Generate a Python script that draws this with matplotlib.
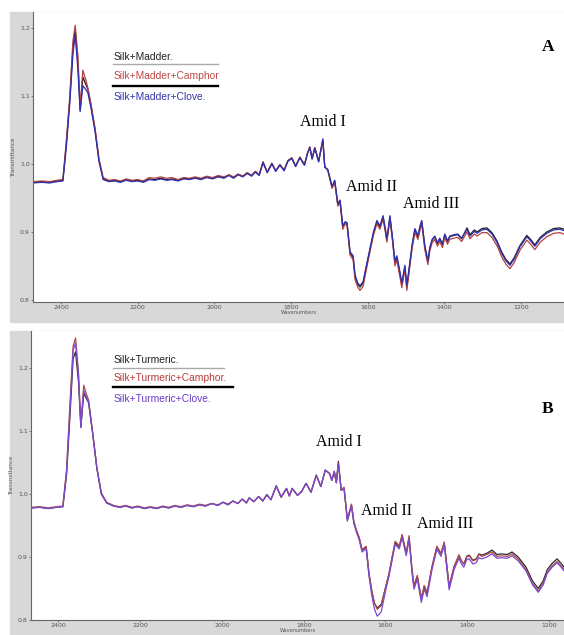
import matplotlib
matplotlib.use("Agg")
import matplotlib.pyplot as plt
from matplotlib.patches import Rectangle

# ---- panel A : silk + madder ----
A_wn = [2473, 2450, 2430, 2410, 2395, 2386, 2377, 2369, 2363, 2356,
        2350, 2343, 2336, 2330, 2322, 2311, 2301, 2290, 2275, 2260,
        2245, 2230, 2215, 2200, 2185, 2170, 2155, 2140, 2125, 2110,
        2095, 2080, 2065, 2050, 2035, 2020, 2005, 1990, 1975, 1962,
        1950, 1938, 1926, 1914, 1903, 1893, 1883, 1873, 1862, 1850,
        1840, 1829, 1818, 1808, 1798, 1788, 1777, 1765, 1757, 1751,
        1745, 1738, 1728, 1717, 1712, 1704, 1693, 1686, 1678, 1672,
        1665, 1659, 1654, 1646, 1638, 1633, 1626, 1620, 1612, 1603,
        1594, 1585, 1576, 1568, 1560, 1554, 1550, 1542, 1535, 1529,
        1524, 1517, 1511, 1503, 1498, 1490, 1484, 1477, 1469, 1463,
        1459, 1451, 1443, 1438, 1432, 1425, 1418, 1412, 1405, 1399,
        1392, 1386, 1375, 1365, 1355, 1341, 1333, 1322, 1315, 1302,
        1289, 1276, 1263, 1250, 1240, 1229, 1218, 1203, 1185, 1175,
        1164, 1150, 1133, 1115, 1099, 1088]
A_madder = [.973, .974, .973, .975, .976, 1.030, 1.095, 1.170, 1.198, 1.150,
            1.079, 1.128, 1.118, 1.110, 1.087, 1.050, 1.006, .978, .975, .976,
            .974, .977, .975, .976, .974, .978, .977, .979, .977, .978,
            .976, .979, .978, .980, .978, .981, .979, .982, .980, .984,
            .980, .985, .982, .987, .983, .989, .984, 1.003, .988, 1.001,
            .990, .999, .991, 1.005, 1.009, .997, 1.010, .999, 1.016, 1.025,
            1.008, 1.024, 1.004, 1.035, .996, .991, .966, .975, .940, .945,
            .907, .914, .913, .869, .863, .834, .823, .819, .825, .850,
            .874, .898, .915, .907, .922, .903, .888, .922, .888, .854,
            .863, .842, .822, .849, .818, .854, .880, .903, .893, .908,
            .915, .878, .856, .876, .888, .893, .883, .890, .881, .896,
            .886, .893, .895, .896, .890, .906, .896, .903, .900, .905,
            .906, .899, .887, .870, .860, .853, .862, .880, .895, .889,
            .881, .892, .900, .905, .906, .904]
A_camphor = [.974, .975, .974, .976, .977, 1.035, 1.100, 1.180, 1.204, 1.160,
             1.084, 1.138, 1.125, 1.112, 1.089, 1.052, 1.008, .980, .976, .977,
             .975, .978, .976, .977, .975, .980, .979, .981, .979, .980,
             .977, .980, .979, .981, .979, .982, .980, .983, .981, .984,
             .981, .985, .982, .987, .983, .989, .984, 1.003, .988, 1.001,
             .990, .999, .991, 1.005, 1.009, .997, 1.010, .999, 1.016, 1.025,
             1.008, 1.024, 1.004, 1.034, .996, .990, .964, .973, .938, .943,
             .904, .912, .910, .866, .859, .830, .819, .814, .820, .846,
             .871, .895, .912, .904, .919, .900, .885, .919, .885, .850,
             .859, .837, .818, .845, .814, .850, .876, .899, .889, .904,
             .911, .874, .852, .872, .884, .889, .879, .886, .877, .892,
             .882, .889, .891, .892, .886, .900, .890, .897, .894, .899,
             .899, .892, .880, .863, .853, .846, .855, .873, .888, .882,
             .874, .885, .893, .898, .899, .897]
A_clove = [.972, .973, .972, .974, .975, 1.025, 1.090, 1.160, 1.190, 1.140,
           1.077, 1.115, 1.110, 1.105, 1.083, 1.047, 1.004, .977, .974, .975,
           .973, .976, .974, .975, .973, .977, .976, .978, .976, .977,
           .975, .978, .977, .979, .977, .980, .978, .981, .979, .983,
           .979, .984, .981, .986, .982, .988, .983, 1.002, .987, 1.000,
           .989, .998, .990, 1.004, 1.008, .996, 1.009, .998, 1.015, 1.024,
           1.007, 1.023, 1.003, 1.037, .995, .992, .967, .976, .942, .947,
           .909, .915, .914, .871, .865, .837, .825, .821, .827, .852,
           .876, .900, .917, .909, .924, .905, .890, .924, .890, .857,
           .865, .845, .825, .851, .821, .856, .882, .905, .895, .910,
           .917, .880, .858, .877, .889, .894, .884, .891, .882, .897,
           .887, .894, .896, .897, .891, .904, .894, .901, .898, .903,
           .904, .897, .885, .868, .858, .851, .860, .878, .893, .887,
           .879, .890, .898, .903, .904, .902]

# ---- panel B : silk + turmeric ----
B_wn = [2467, 2445, 2425, 2405, 2389, 2380, 2372, 2364, 2358, 2351,
        2345, 2338, 2332, 2326, 2316, 2306, 2295, 2282, 2265, 2250,
        2235, 2220, 2205, 2190, 2175, 2160, 2145, 2130, 2115, 2100,
        2085, 2070, 2055, 2040, 2025, 2010, 1997, 1985, 1973, 1961,
        1950, 1940, 1933, 1922, 1910, 1900, 1890, 1880, 1867, 1855,
        1842, 1835, 1828, 1815, 1805, 1794, 1782, 1769, 1758, 1747,
        1737, 1731, 1725, 1720, 1715, 1708, 1701, 1693, 1683, 1677,
        1671, 1664, 1657, 1647, 1640, 1633, 1627, 1620, 1610, 1600,
        1591, 1583, 1576, 1566, 1559, 1549, 1542, 1535, 1530, 1522,
        1512, 1505, 1498, 1486, 1474, 1464, 1456, 1444, 1432, 1420,
        1414, 1408, 1401, 1395, 1386, 1378, 1371, 1364, 1352, 1339,
        1327, 1315, 1302, 1290, 1275, 1256, 1240, 1226, 1214, 1204,
        1192, 1180, 1170, 1163]
B_turmeric = [.978, .979, .977, .979, .980, 1.030, 1.120, 1.215, 1.226, 1.180,
              1.106, 1.160, 1.152, 1.145, 1.095, 1.041, 1.000, .986, .981, .979,
              .981, .978, .980, .977, .979, .977, .980, .978, .981, .979,
              .982, .980, .983, .981, .985, .982, .987, .983, .989, .985,
              .992, .986, .994, .988, .996, .989, .999, .991, 1.013, .995,
              1.009, .997, 1.009, .998, 1.004, 1.017, 1.003, 1.030, 1.012, 1.038,
              1.033, 1.022, 1.036, 1.018, 1.052, 1.006, 1.009, .959, .983, .955,
              .942, .930, .911, .916, .873, .845, .827, .819, .825, .850,
              .873, .900, .923, .916, .934, .905, .931, .880, .853, .869,
              .833, .853, .842, .884, .916, .905, .923, .853, .884, .903,
              .894, .889, .901, .903, .895, .897, .905, .903, .906, .911,
              .904, .905, .904, .908, .900, .884, .862, .850, .862, .880,
              .890, .897, .890, .884]
B_camphor = [.979, .980, .978, .980, .981, 1.040, 1.140, 1.235, 1.248, 1.195,
             1.111, 1.173, 1.160, 1.149, 1.098, 1.043, 1.002, .987, .982, .980,
             .982, .979, .981, .978, .980, .978, .981, .979, .982, .980,
             .983, .981, .984, .982, .985, .983, .987, .984, .989, .985,
             .992, .986, .994, .988, .996, .989, .999, .991, 1.013, .995,
             1.009, .997, 1.009, .998, 1.004, 1.017, 1.003, 1.030, 1.012, 1.038,
             1.033, 1.022, 1.036, 1.018, 1.050, 1.006, 1.011, .960, .984, .956,
             .943, .931, .912, .917, .874, .846, .827, .817, .823, .851,
             .875, .902, .925, .918, .936, .907, .934, .882, .855, .871,
             .835, .855, .844, .885, .917, .906, .924, .854, .885, .903,
             .894, .889, .900, .902, .894, .896, .904, .901, .904, .908,
             .901, .902, .901, .905, .897, .880, .858, .846, .858, .876,
             .886, .893, .886, .880]
B_clove = [.978, .979, .977, .979, .980, 1.035, 1.130, 1.228, 1.240, 1.190,
           1.106, 1.165, 1.154, 1.146, 1.096, 1.042, 1.001, .986, .981, .979,
           .981, .978, .980, .977, .979, .977, .980, .978, .981, .979,
           .982, .980, .983, .981, .985, .982, .987, .983, .989, .985,
           .992, .986, .994, .988, .996, .989, .999, .991, 1.013, .995,
           1.009, .997, 1.009, .998, 1.004, 1.017, 1.003, 1.030, 1.012, 1.038,
           1.033, 1.022, 1.036, 1.018, 1.048, 1.006, 1.008, .957, .981, .953,
           .940, .927, .908, .913, .869, .838, .818, .806, .813, .845,
           .870, .897, .920, .913, .931, .902, .928, .876, .849, .865,
           .828, .849, .837, .880, .912, .901, .919, .848, .880, .898,
           .889, .884, .896, .897, .889, .891, .899, .897, .900, .905,
           .898, .899, .898, .902, .894, .878, .856, .844, .856, .874,
           .884, .891, .884, .878]

x_ticks = [2400, 2200, 2000, 1800, 1600, 1400, 1200]
y_ticks = [0.8, 0.9, 1.0, 1.1, 1.2]
A_labels = ["Silk+Madder.", "Silk+Madder+Camphor", "Silk+Madder+Clove."]
B_labels = ["Silk+Turmeric.", "Silk+Turmeric+Camphor.", "Silk+Turmeric+Clove."]
amid_names = ["Amid I", "Amid II", "Amid III"]

W, H = 564, 635
GRAY = "#d8d8d8"
fig = plt.figure(figsize=(W / 100, H / 100), dpi=100)

# grey frames behind each spectrum window
fig.patches.append(Rectangle((10 / W, 1 - 322 / H), 554 / W, 310 / H,
                             transform=fig.transFigure, color=GRAY, zorder=-1))
fig.patches.append(Rectangle((10 / W, 0), 554 / W, 304 / H,
                             transform=fig.transFigure, color=GRAY, zorder=-1))


def px_axes(l, t, r, b):
    return fig.add_axes([l / W, 1 - b / H, (r - l) / W, (b - t) / H])


def panel(ax, wn, series, colors, labels, text_colors, xlim, ylim,
          letter, letter_y, leg, amid_pos):
    for ys, c in zip(series, colors):
        ax.plot(wn, ys, color=c, lw=0.9)
    ax.set_xlim(*xlim)
    ax.set_ylim(*ylim)
    ax.set_xticks(x_ticks)
    ax.set_yticks(y_ticks)
    ax.set_yticklabels(["%.1f" % v for v in y_ticks])
    ax.tick_params(labelsize=4.5, length=1.5, width=0.5, colors="#555555", pad=0.8)
    for s in ["top", "right"]:
        ax.spines[s].set_visible(False)
    for s in ["left", "bottom"]:
        ax.spines[s].set_color("#666666")
        ax.spines[s].set_linewidth(0.8)
    ax.set_xlabel("Wavenumbers", fontsize=3.6, labelpad=0, color="#555555")
    ax.set_ylabel("Transmittance", fontsize=4, labelpad=3, color="#555555")

    # spectrum titles with their line keys
    x0, x1, x2, ys = leg
    for lab, tc, yy in zip(labels, text_colors, ys[0::2]):
        ax.text(x0, yy, lab, transform=ax.transAxes, fontsize=7.4, color=tc,
                family="Liberation Sans", va="center", ha="left")
    ax.plot([x0, x1], [ys[1], ys[1]], transform=ax.transAxes, color="#aaaaaa", lw=1.0)
    ax.plot([x0, x2], [ys[3], ys[3]], transform=ax.transAxes, color="black", lw=1.7)

    ax.text(0.97, letter_y, letter, transform=ax.transAxes, fontsize=12.5,
            fontweight="bold", family="Liberation Serif", ha="center", va="center")
    for name, (wx, ty) in zip(amid_names, amid_pos):
        ax.text(wx, ty, name, fontsize=11.5, family="Liberation Serif",
                ha="center", va="center")


axA = px_axes(33, 12, 564, 302)
panel(axA, A_wn, [A_madder, A_camphor, A_clove],
      ["#1e1e1e", "#b04040", "#2f2fb0"], A_labels,
      ["#222222", "#c04848", "#3535b0"],
      (2473, 1088), (0.797, 1.2235), "A", 0.88,
      (0.151, 0.348, 0.348, [0.845, 0.821, 0.780, 0.746, 0.706]),
      [(1717, 1.062), (1589, 0.966), (1435, 0.941)])

axB = px_axes(31, 331, 564, 620)
panel(axB, B_wn, [B_turmeric, B_camphor, B_clove],
      ["#2a2a2a", "#b04a4a", "#7a4ad0"], B_labels,
      ["#222222", "#b83c3c", "#6a3cc8"],
      (2467, 1163), (0.800, 1.259), "B", 0.73,
      (0.154, 0.362, 0.379, [0.901, 0.873, 0.836, 0.805, 0.764]),
      [(1713, 1.083), (1598, 0.973), (1454, 0.952)])

fig.savefig("out.png", dpi=100)
